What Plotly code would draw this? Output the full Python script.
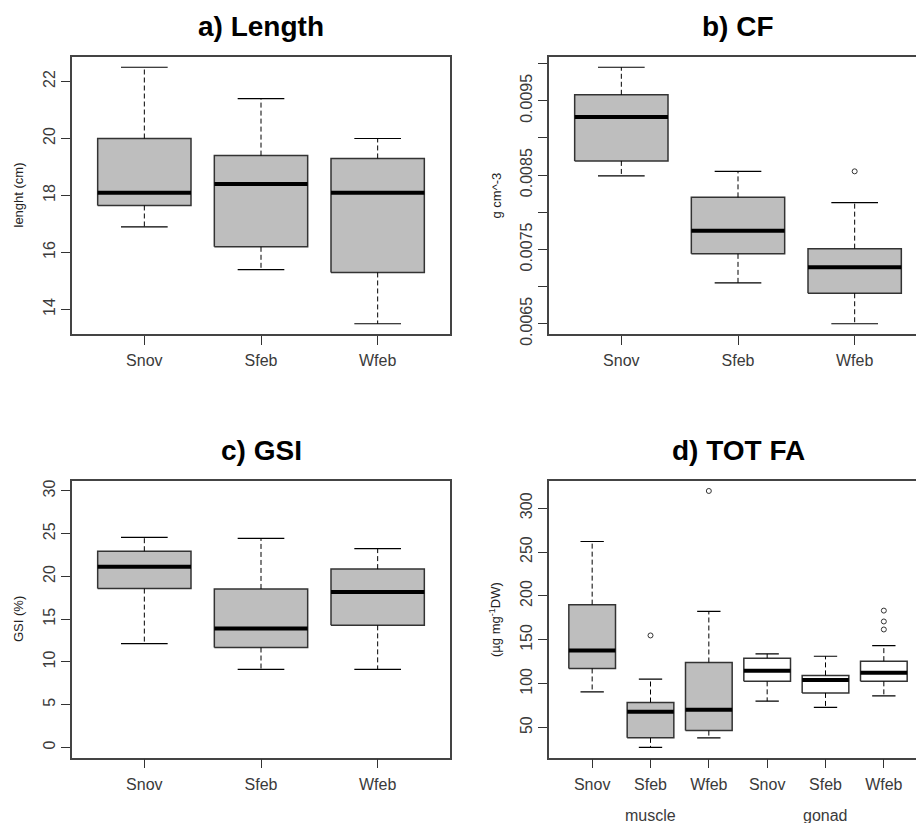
import plotly.graph_objects as go

W, H = 916, 823

# ---------------- data ----------------
categories = ["Snov", "Sfeb", "Wfeb"]

length_low = [16.9, 15.4, 13.5]
length_q1 = [17.65, 16.2, 15.3]
length_med = [18.1, 18.4, 18.1]
length_q3 = [20.0, 19.4, 19.3]
length_high = [22.5, 21.4, 20.0]
length_out = [[], [], []]

cf_low = [0.00849, 0.00705, 0.0065]
cf_q1 = [0.00869, 0.00744, 0.00691]
cf_med = [0.00928, 0.00775, 0.00726]
cf_q3 = [0.00958, 0.00820, 0.00751]
cf_high = [0.00995, 0.00855, 0.00813]
cf_out = [[], [], [0.00855]]

gsi_low = [12.15, 9.13, 9.13]
gsi_q1 = [18.58, 11.69, 14.28]
gsi_med = [21.13, 13.9, 18.19]
gsi_q3 = [22.95, 18.54, 20.86]
gsi_high = [24.58, 24.46, 23.26]
gsi_out = [[], [], []]

fa_categories = ["Snov", "Sfeb", "Wfeb", "Snov", "Sfeb", "Wfeb"]
fa_tissue = ["muscle", "muscle", "muscle", "gonad", "gonad", "gonad"]
fa_low = [90.7, 27.4, 38.3, 80.1, 73.0, 86.1]
fa_q1 = [117.4, 38.3, 46.6, 102.7, 89.5, 102.7]
fa_med = [137.7, 68.1, 70.3, 114.8, 104.2, 112.5]
fa_q3 = [190.1, 78.6, 124.2, 129.1, 109.5, 125.7]
fa_high = [262.0, 105.3, 182.5, 134.0, 131.3, 143.4]
fa_out = [[], [155.0], [319.6], [], [], [183.3, 170.9, 161.8]]

cf_tickvals = [0.0065, 0.0075, 0.0085, 0.0095]

FONT = "Arial, Liberation Sans, Helvetica, sans-serif"
GRAY = "#BEBEBE"
LINE = "#333333"
FRAME = "#444444"

fig = go.Figure()

# panel geometry in pixels (left, top, bottom); plot region width 378 px
PLOT_W = 378
panels = {
    "a": dict(l=72, t=57, b=334, clip=False),
    "b": dict(l=549, t=57, b=334, clip=True),
    "c": dict(l=72, t=480.7, b=757.7, clip=False),
    "d": dict(l=549, t=480.7, b=757.7, clip=True),
}


def add_boxes(xa, ya, low, q1, med, q3, high, outs, fills):
    n = len(med)
    hw, cw = 0.4, 0.2
    for i in range(n):
        x = i + 1
        fig.add_trace(go.Scatter(
            x=[x - hw, x + hw, x + hw, x - hw, x - hw],
            y=[q1[i], q1[i], q3[i], q3[i], q1[i]],
            mode="lines", fill="toself", fillcolor=fills[i],
            line=dict(color=LINE, width=1.5), xaxis=xa, yaxis=ya,
            showlegend=False, hoverinfo="skip"))
    wx, wy, cx, cy, mx, my = [], [], [], [], [], []
    for i in range(n):
        x = i + 1
        wx += [x, x, None, x, x, None]
        wy += [q3[i], high[i], None, q1[i], low[i], None]
        cx += [x - cw, x + cw, None, x - cw, x + cw, None]
        cy += [high[i], high[i], None, low[i], low[i], None]
        mx += [x - hw, x + hw, None]
        my += [med[i], med[i], None]
    fig.add_trace(go.Scatter(x=wx, y=wy, mode="lines",
                             line=dict(color="black", width=1, dash="5px,3px"),
                             xaxis=xa, yaxis=ya, showlegend=False, hoverinfo="skip"))
    fig.add_trace(go.Scatter(x=cx, y=cy, mode="lines",
                             line=dict(color="black", width=1.2),
                             xaxis=xa, yaxis=ya, showlegend=False, hoverinfo="skip"))
    fig.add_trace(go.Scatter(x=mx, y=my, mode="lines",
                             line=dict(color="black", width=4),
                             xaxis=xa, yaxis=ya, showlegend=False, hoverinfo="skip"))
    ox, oy = [], []
    for i, o in enumerate(outs):
        for v in o:
            ox.append(i + 1)
            oy.append(v)
    if ox:
        fig.add_trace(go.Scatter(x=ox, y=oy, mode="markers",
                                 marker=dict(symbol="circle-open", size=5,
                                             color=LINE, line=dict(width=1)),
                                 xaxis=xa, yaxis=ya, showlegend=False, hoverinfo="skip"))


def rrange(vals_lists):
    vals = [v for lst in vals_lists for v in lst]
    lo, hi = min(vals), max(vals)
    d = (hi - lo) * 0.04
    return [lo - d, hi + d]


add_boxes("x", "y", length_low, length_q1, length_med, length_q3, length_high,
          length_out, [GRAY] * 3)
add_boxes("x2", "y2", cf_low, cf_q1, cf_med, cf_q3, cf_high, cf_out, [GRAY] * 3)
add_boxes("x3", "y3", gsi_low, gsi_q1, gsi_med, gsi_q3, gsi_high, gsi_out, [GRAY] * 3)
add_boxes("x4", "y4", fa_low, fa_q1, fa_med, fa_q3, fa_high, fa_out,
          [GRAY if t == "muscle" else "white" for t in fa_tissue])

yranges = {
    "a": rrange([length_low, length_high]),
    "b": rrange([cf_low, cf_high, *cf_out]),
    "c": [0 - 1.2, 30 + 1.2],
    "d": rrange([fa_low, fa_high, *fa_out]),
}
ncat = {"a": 3, "b": 3, "c": 3, "d": 6}
ticklabels = {"a": categories, "b": categories, "c": categories, "d": fa_categories}
ytick = {
    "a": dict(tickvals=[14, 16, 18, 20, 22]),
    "b": dict(tickvals=cf_tickvals, ticktext=[f"{v:.4f}" for v in cf_tickvals],
              minor=dict(tick0=0.0065, dtick=0.0005, ticks="outside", ticklen=9,
                         tickwidth=1.2, tickcolor=LINE, showgrid=False)),
    "c": dict(tickvals=[0, 5, 10, 15, 20, 25, 30]),
    "d": dict(tickvals=[50, 100, 150, 200, 250, 300]),
}

axis_names = {"a": ("xaxis", "yaxis"), "b": ("xaxis2", "yaxis2"),
              "c": ("xaxis3", "yaxis3"), "d": ("xaxis4", "yaxis4")}
anchors = {"a": ("y", "x"), "b": ("y2", "x2"), "c": ("y3", "x3"), "d": ("y4", "x4")}

tickfont = dict(family=FONT, size=16, color="#3a3a3a")
layout_axes = {}
for k, p in panels.items():
    n = ncat[k]
    x0 = 0.5 - 0.04 * n
    x1 = n + 0.5 + 0.04 * n
    ppu = PLOT_W / (x1 - x0)
    right_px = p["l"] + PLOT_W
    if p["clip"]:
        right_px = W
        x1 = x0 + (W - p["l"]) / ppu
    xn, yn = axis_names[k]
    xa_anchor, ya_anchor = anchors[k]
    layout_axes[xn] = dict(
        domain=[p["l"] / W, right_px / W], range=[x0, x1], anchor=xa_anchor,
        tickvals=list(range(1, n + 1)), ticktext=ticklabels[k],
        ticks="outside", ticklen=9, tickwidth=1.2, tickcolor=LINE,
        showline=True, linecolor=FRAME, linewidth=1.5, mirror=True,
        showgrid=False, zeroline=False, tickfont=tickfont, ticklabelstandoff=2,
        automargin=False)
    yt = dict(ytick[k])
    layout_axes[yn] = dict(
        domain=[1 - p["b"] / H, 1 - p["t"] / H], range=yranges[k], anchor=ya_anchor,
        ticks="outside", ticklen=9, tickwidth=1.2, tickcolor=LINE,
        showline=True, linecolor=FRAME, linewidth=1.5, mirror=not p["clip"],
        showgrid=False, zeroline=False, tickfont=tickfont, tickangle=-90,
        ticklabelstandoff=0, automargin=False, **yt)

annotations = []
titles = [("a) Length", 261, 27), ("b) CF", 738, 27), ("c) GSI", 261, 450), ("d) TOT FA", 738, 450)]
for txt, xp, yp in titles:
    annotations.append(dict(text="<b>" + txt + "</b>", x=xp / W, y=1 - yp / H,
                            xref="paper", yref="paper", showarrow=False,
                            xanchor="center", yanchor="middle",
                            font=dict(family=FONT, size=28, color="black")))
ytitles = [("lenght (cm)", 18, 195.5), ("g cm^-3", 496, 195.5),
           ("GSI (%)", 18, 619), ("(µg mg<sup>-1</sup>DW)", 495, 619)]
for txt, xp, yp in ytitles:
    annotations.append(dict(text=txt, x=xp / W, y=1 - yp / H, xref="paper", yref="paper",
                            showarrow=False, textangle=-90, xanchor="center",
                            yanchor="middle",
                            font=dict(family=FONT, size=13, color="#222222")))
for grp, xv in [("muscle", 2), ("gonad", 5)]:
    annotations.append(dict(text=grp, x=xv, y=1 - 815 / H, xref="x4", yref="paper",
                            showarrow=False, xanchor="center", yanchor="middle",
                            font=dict(family=FONT, size=16, color="#3a3a3a")))

fig.update_layout(
    width=W, height=H, margin=dict(l=0, r=0, t=0, b=0, pad=0, autoexpand=False),
    paper_bgcolor="white", plot_bgcolor="white",
    showlegend=False, annotations=annotations, **layout_axes)

fig.write_html("out.html")
